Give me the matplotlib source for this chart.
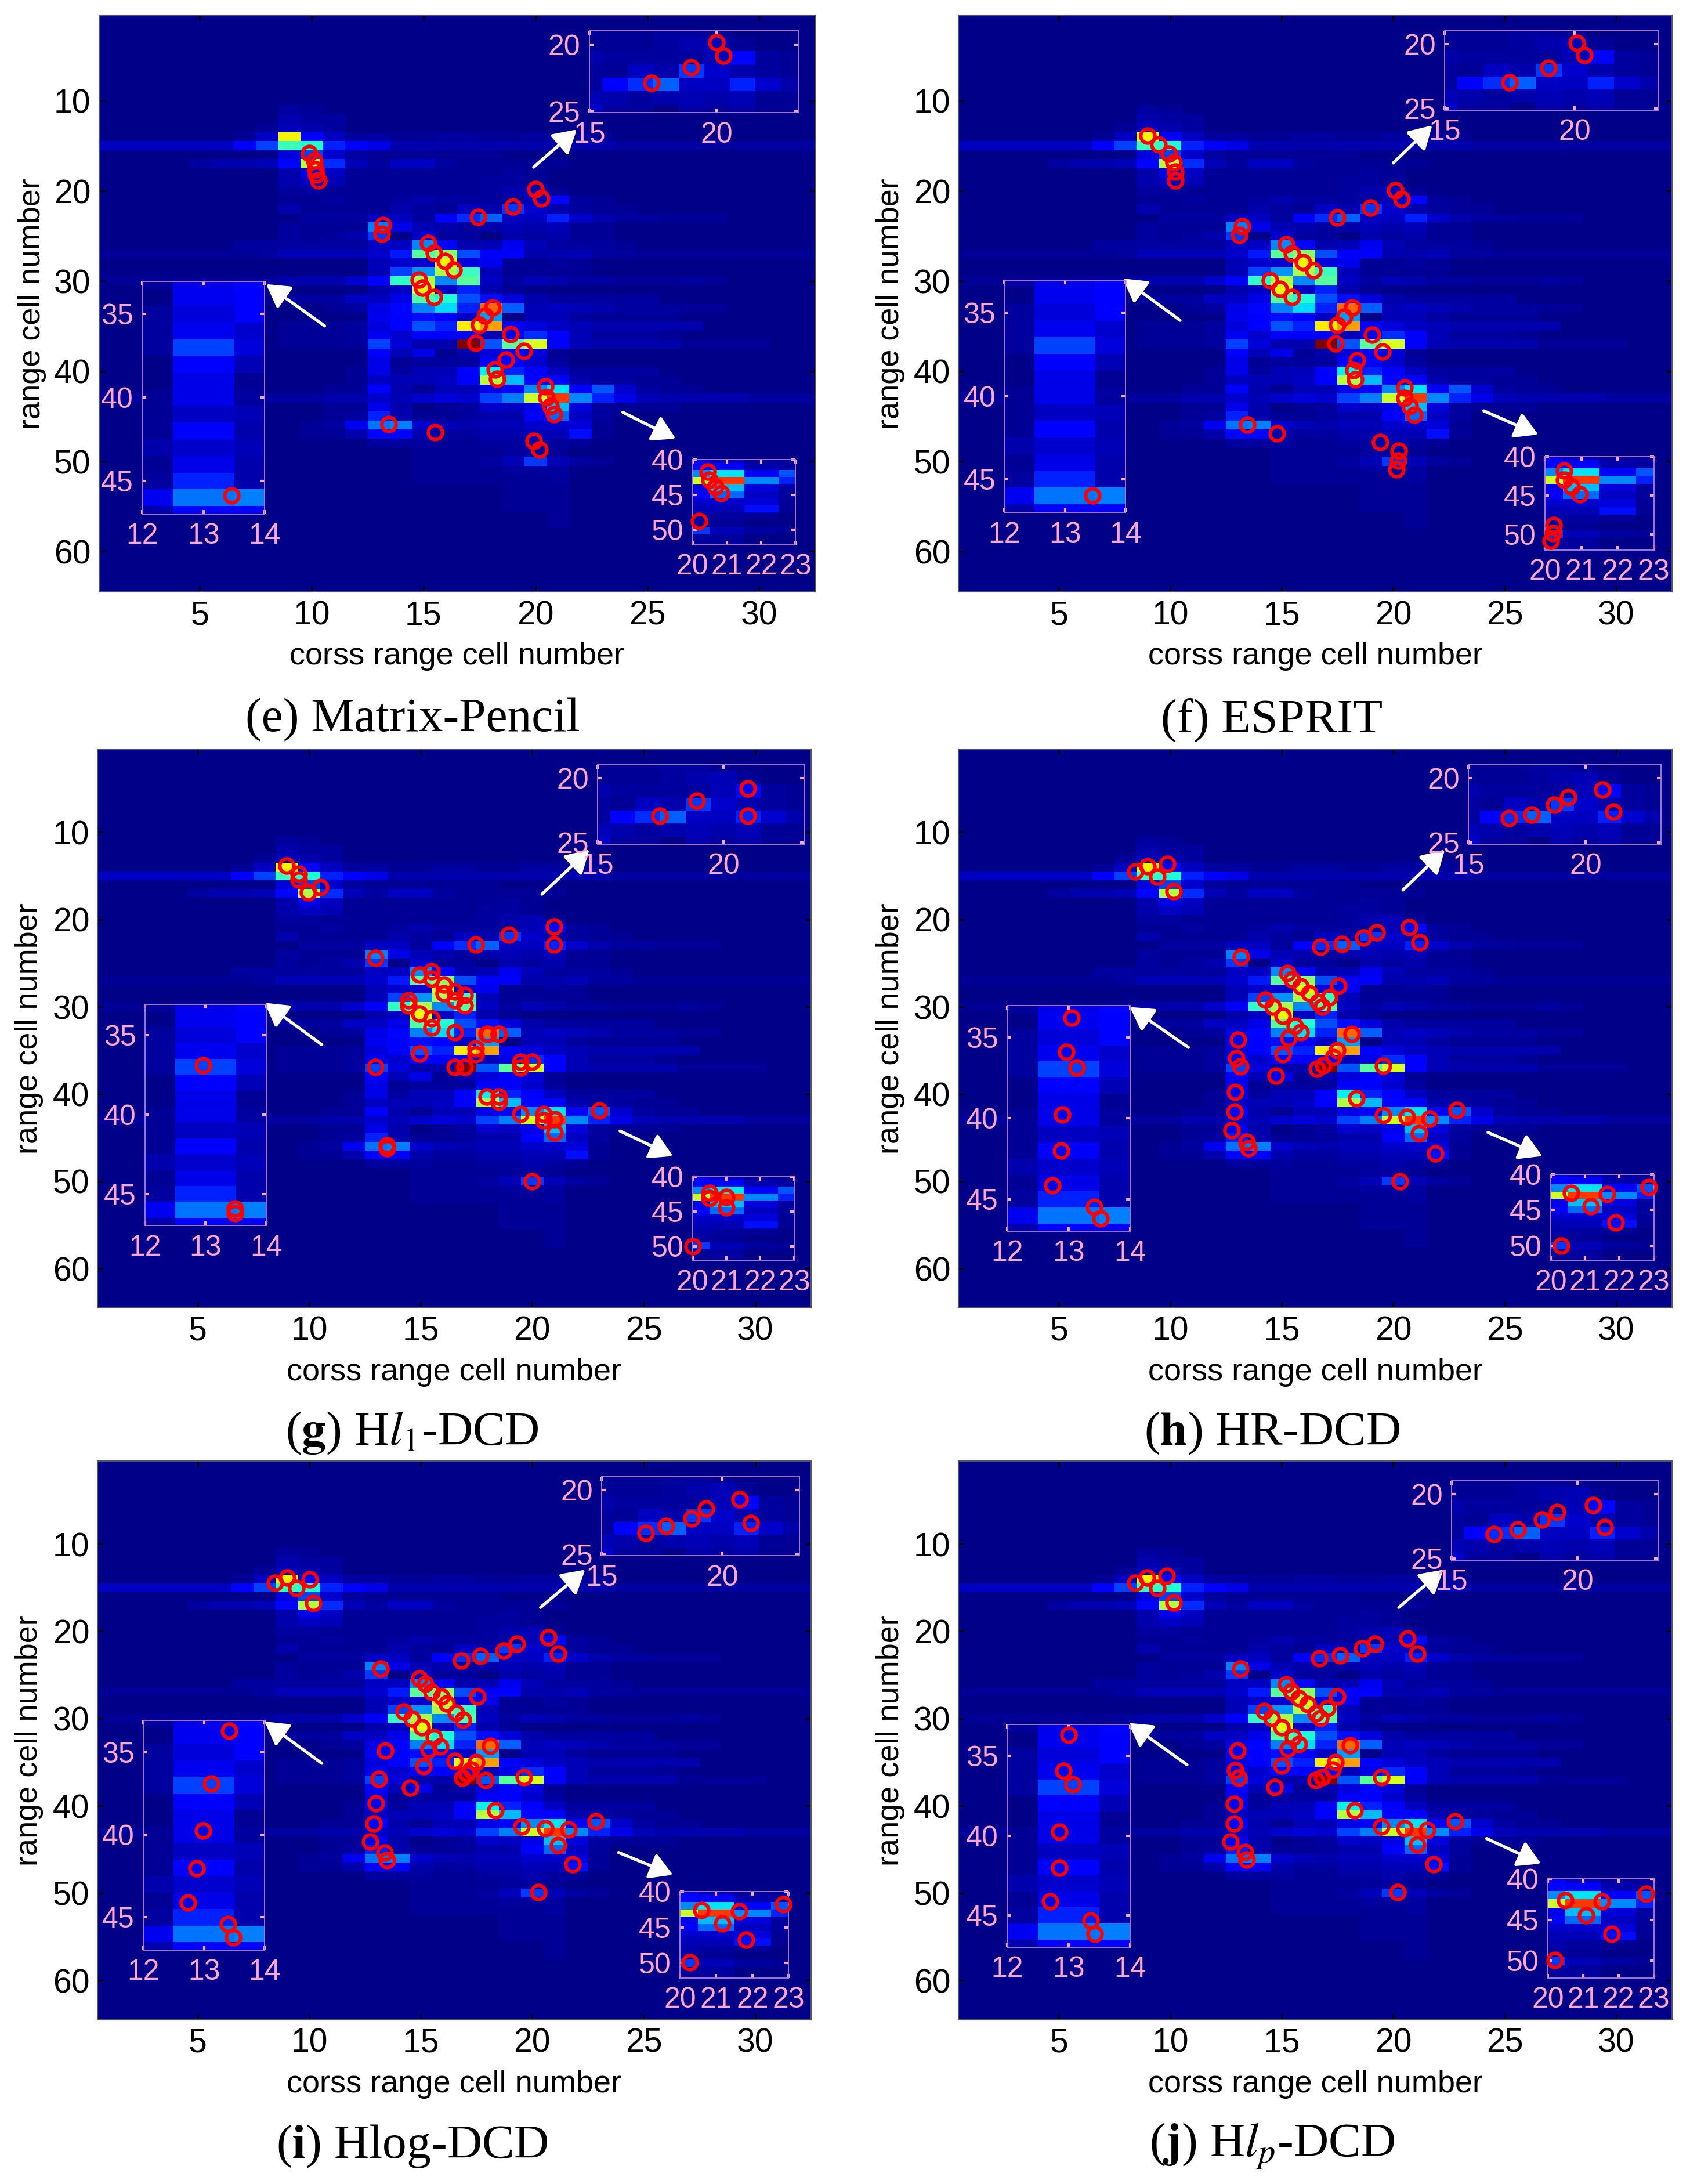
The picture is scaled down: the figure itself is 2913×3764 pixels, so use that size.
import numpy as np
import matplotlib
matplotlib.use("Agg")
import matplotlib.pyplot as plt

plt.rcParams['font.family'] = ['Liberation Sans', 'DejaVu Sans']
plt.rcParams['mathtext.fontset'] = 'stix'

# heat map cells in percent of the jet range: (row, first column, values)
# everything not listed stays at the background level
background = 1
heat_cells = [
    (11, 9, [3, 2]),
    (12, 9, [4, 3, 3]),
    (13, 8, [2, 5, 4, 3]),
    (14, 7, [2, 6, 65, 12, 6, 3, 3, 2, 2, 3, 3, 2, 2, 3, 3, 3, 2]),
    (15, 1, [6, 6, 6, 6, 6, 6, 11, 19, 42, 39, 16, 11, 9, 4, 4, 4, 4, 4, 4, 4, 4, 4, 4, 3, 3, 3, 3, 3, 3, 3, 3, 3]),
    (16, 9, [8, 19, 7, 3, 2, 2, 2, 2, 2, 2, 1, 1]),
    (17, 5, [3, 4, 4, 5, 13, 57, 17, 5, 3, 6, 6, 3, 2, 2, 2, 2, 2]),
    (18, 9, [4, 9, 6, 2, 2, 2, 2, 2, 2, 2, 3, 2]),
    (19, 9, [4, 6, 5, 2, 2, 2, 2, 2, 2, 3, 3, 2]),
    (20, 9, [3, 3, 2, 2, 2, 2, 2, 2, 2, 3, 4, 5, 2]),
    (21, 9, [2, 2, 3, 2, 2, 3, 4, 3, 3, 3, 3, 5, 13, 3, 2]),
    (22, 9, [4, 2, 2, 2, 2, 4, 3, 2, 6, 4, 18, 7, 4, 3, 2, 2]),
    (23, 9, [1, 3, 3, 3, 6, 6, 3, 11, 17, 22, 6, 6, 16, 7, 4, 3, 3, 2, 2, 2, 1]),
    (24, 9, [3, 2, 2, 2, 25, 9, 5, 4, 3, 4, 5, 4, 5, 2, 2]),
    (25, 9, [3, 2, 3, 4, 18, 1, 7, 3, 3, 1, 4, 3, 4, 2, 2]),
    (26, 7, [3, 3, 3, 3, 3, 3, 6, 6, 26, 13, 4, 5, 10, 5, 3, 3, 3, 2]),
    (27, 1, [2, 2, 2, 2, 2, 2, 2, 3, 5, 5, 5, 5, 7, 15, 46, 52, 20, 11, 11, 4, 4, 5, 3, 3, 2, 2, 2, 2, 2, 2, 2, 2]),
    (28, 13, [5, 7, 7, 65, 8, 10, 2, 2, 3, 2]),
    (29, 13, [5, 19, 27, 56, 42, 5, 2, 2, 2, 2]),
    (30, 1, [2, 2, 2, 2, 2, 2, 2, 3, 4, 4, 4, 7, 12, 41, 56, 26, 46, 6, 3, 5, 4, 3, 3, 2, 2, 2, 3, 2]),
    (31, 13, [4, 6, 63, 6, 16, 4, 2, 1, 1]),
    (32, 9, [3, 3, 3, 6, 6, 9, 45, 39, 20, 14, 8, 4, 3, 3, 3, 3, 3]),
    (33, 11, [2, 3, 9, 13, 25, 34, 16, 80, 22, 5, 6, 5, 4, 3, 3, 3, 2, 2]),
    (34, 13, [10, 12, 14, 12, 6, 28, 1, 5, 5, 3, 2, 2, 2, 2]),
    (35, 9, [2, 2, 2, 3, 8, 12, 21, 16, 66, 74, 12, 8, 6, 5, 4, 4, 4, 4, 4]),
    (36, 9, [2, 2, 2, 3, 10, 7, 11, 11, 11, 5, 9, 17, 11, 5, 3, 3, 3, 2]),
    (37, 9, [2, 2, 2, 3, 19, 8, 4, 4, 100, 21, 46, 61, 11, 5, 4, 4, 4, 4, 2, 2, 2, 2]),
    (38, 13, [11, 5, 9, 2, 4, 8, 11, 8, 2]),
    (39, 13, [9, 2, 3, 3, 3, 12, 11, 7, 3]),
    (40, 12, [2, 9, 3, 5, 5, 11, 36, 16, 12, 6, 3, 3, 3, 3]),
    (41, 12, [2, 6, 5, 5, 6, 12, 57, 31, 13, 12, 4, 3, 3, 2, 2]),
    (42, 11, [2, 2, 12, 4, 2, 5, 5, 9, 12, 26, 35, 12, 21, 7, 3, 2, 2]),
    (43, 1, [3, 3, 3, 3, 3, 3, 3, 3, 3, 3, 4, 4, 7, 5, 7, 8, 7, 19, 25, 60, 85, 26, 16, 9, 5, 4, 4, 4, 4, 3, 3, 3]),
    (44, 11, [2, 2, 9, 4, 1, 2, 3, 7, 6, 9, 31, 8, 3, 2, 2, 2]),
    (45, 11, [2, 3, 16, 4, 2, 2, 3, 4, 4, 12, 23, 6, 3]),
    (46, 10, [2, 3, 10, 24, 25, 7, 5, 4, 5, 5, 7, 7, 8, 2]),
    (47, 10, [2, 2, 4, 13, 12, 4, 3, 3, 4, 4, 5, 5, 14, 2]),
    (48, 13, [3, 3, 3, 2, 2, 3, 3, 4, 3, 2]),
    (49, 15, [2, 2, 2, 2, 3, 3, 2]),
    (50, 15, [2, 2, 2, 3, 5, 18, 5, 3, 2]),
    (51, 15, [2, 2, 2, 2, 3, 3, 3]),
    (52, 15, [2, 2, 2, 2, 2, 2, 3]),
    (53, 19, [2, 2, 2]),
    (54, 19, [2, 2, 2]),
    (55, 19, [2, 2, 2]),
    (56, 21, [2]),
    (57, 21, [2]),
]

# red circle positions, cross range then range
e_x = [9.9, 10.14, 10.19, 10.2, 10.3, 13.2, 13.15, 15.2, 15.46, 15.96, 16.35, 14.8, 14.95, 15.46, 18.1, 17.76, 17.5, 17.33,
       18.9, 19.5, 18.68, 18.2, 18.3, 20.45, 20.5, 20.67, 20.84, 13.46, 15.53, 19.93, 20.2, 17.43, 18.99, 20.0, 20.26]
e_y = [15.83, 16.67, 17.6, 18.2, 18.8, 23.8, 24.76, 25.8, 26.86, 27.75, 28.75, 29.85, 30.75, 31.74, 32.9, 33.84, 34.84, 36.84,
       35.9, 37.73, 38.73, 39.8, 40.83, 41.7, 42.9, 43.9, 44.8, 45.87, 46.8, 47.76, 48.7, 22.87, 21.7, 19.82, 20.82]

f_x = [8.98, 9.47, 9.94, 10.14, 10.22, 10.22, 13.23, 13.08, 15.2, 15.45, 15.96, 16.43, 14.47, 14.9, 15.45, 18.17, 17.8, 17.49, 17.42,
       19.04, 19.51, 18.38, 18.23, 18.3, 20.52, 20.52, 20.73, 20.96, 13.45, 14.77, 19.41, 20.24, 20.22, 20.15, 17.5, 18.98, 20.09, 20.38]
f_y = [13.88, 14.83, 15.89, 16.81, 17.84, 18.82, 23.9, 24.85, 25.91, 26.95, 27.89, 28.81, 29.9, 30.85, 31.79, 32.92, 33.95, 34.87, 36.9,
       35.93, 37.85, 38.77, 39.86, 40.9, 41.81, 42.97, 43.85, 44.83, 45.95, 46.93, 47.85, 48.82, 49.91, 50.89, 22.96, 21.83, 19.91, 20.86]

g_x = [8.99, 9.52, 9.52, 9.95, 10.48, 12.96, 12.96, 14.95, 15.48, 15.48, 16.03, 16.03, 16.53, 16.53, 16.98, 16.98, 14.45, 14.45,
       14.95, 15.48, 15.48, 16.53, 14.95, 17.97, 18.0, 18.5, 18.5, 17.47, 17.47, 16.53, 16.98, 19.47, 19.47, 19.98, 17.97, 18.52, 18.52,
       19.47, 20.51, 20.51, 21.0, 21.0, 23.02, 13.49, 13.49, 20.0, 17.47, 18.94, 20.98, 20.98]
g_y = [13.82, 14.74, 15.41, 16.88, 16.3, 24.4, 36.88, 26.3, 25.9, 26.82, 27.43, 28.43, 28.25, 29.26, 28.67, 29.87, 29.27, 29.87,
       30.79, 31.35, 32.39, 32.94, 35.39, 33.09, 33.09, 33.09, 33.09, 34.77, 35.47, 36.88, 36.88, 36.3, 37.0, 36.3, 40.28, 40.28, 40.89,
       42.32, 42.32, 43.03, 42.9, 44.4, 41.9, 45.9, 46.2, 50.0, 22.9, 21.76, 20.8, 22.9]

h_x = [8.43, 8.99, 9.43, 9.87, 10.16, 13.18, 13.05, 12.96, 13.13, 12.9, 12.88, 12.74, 13.42, 13.52, 14.73, 15.05, 15.29, 15.85, 15.58,
       15.05, 14.61, 14.27, 15.24, 15.46, 15.85, 16.24, 16.63, 16.82, 17.12, 17.55, 16.73, 17.7, 18.65, 19.26, 20.72, 21.18, 18.14,
       17.48, 17.31, 16.87, 16.58, 19.55, 18.36, 19.55, 20.6, 21.64, 22.86, 21.16, 21.9, 20.3]
h_y = [14.5, 13.9, 15.1, 13.66, 16.74, 24.28, 33.78, 35.9, 36.86, 39.78, 42.0, 44.13, 45.46, 46.2, 37.87, 35.42, 33.57, 32.93, 32.19,
       31.07, 29.96, 29.2, 26.14, 26.88, 27.67, 28.47, 29.48, 29.96, 28.9, 27.57, 23.11, 22.8, 22.05, 21.47, 20.88, 22.58, 33.14,
       34.95, 35.8, 36.7, 37.12, 36.8, 40.47, 42.43, 42.64, 42.8, 41.8, 44.5, 46.78, 50.02]

i_x = [8.47, 9.0, 9.43, 10.01, 10.18, 13.19, 13.41, 13.12, 12.98, 12.88, 12.73, 13.39, 13.48, 14.52, 15.12, 15.36, 15.89, 15.58, 15.05,
       14.61, 14.23, 14.95, 15.19, 15.48, 15.92, 16.16, 16.59, 16.9, 17.55, 16.81, 17.67, 18.71, 19.31, 20.71, 21.17, 18.11, 16.52,
       17.48, 17.27, 17.07, 16.88, 17.92, 19.63, 18.35, 19.53, 20.59, 21.63, 22.86, 21.17, 21.82, 20.28]
i_y = [14.47, 13.87, 15.07, 14.03, 16.8, 24.27, 33.69, 36.9, 39.74, 42.03, 44.1, 45.4, 46.22, 37.89, 35.44, 33.53, 33.2, 32.11, 31.02,
       30.04, 29.23, 25.41, 26.01, 26.94, 27.48, 28.25, 29.34, 30.15, 27.48, 23.34, 22.8, 22.2, 21.44, 20.73, 22.58, 33.15, 34.89,
       35.0, 35.87, 36.36, 36.8, 37.07, 36.74, 40.5, 42.41, 42.57, 42.73, 41.8, 44.48, 46.71, 49.92]

j_x = [8.43, 8.96, 9.41, 9.85, 10.14, 13.15, 13.0, 12.92, 13.07, 12.85, 12.85, 12.7, 13.36, 13.43, 14.69, 14.99, 15.27, 15.78, 15.5,
       14.99, 14.54, 14.22, 15.2, 15.43, 15.78, 16.15, 16.53, 16.74, 17.04, 17.49, 16.67, 17.62, 18.6, 19.18, 20.63, 21.08, 18.07,
       17.4, 17.29, 16.82, 16.53, 19.47, 18.28, 19.47, 20.5, 21.53, 22.77, 21.08, 21.81, 20.19]
j_y = [14.46, 13.88, 15.05, 13.67, 16.7, 24.28, 33.7, 35.96, 36.79, 39.76, 42.02, 44.1, 45.32, 46.15, 37.83, 35.41, 33.49, 32.94, 32.17,
       31.0, 29.94, 29.14, 26.12, 26.91, 27.68, 28.38, 29.42, 29.94, 28.84, 27.46, 23.09, 22.75, 21.96, 21.41, 20.86, 22.57, 33.09,
       34.98, 35.84, 36.73, 37.06, 36.73, 40.49, 42.36, 42.57, 42.75, 41.8, 44.43, 46.7, 49.9]

captions = ["(e) Matrix-Pencil", "(f) ESPRIT", r"($\mathbf{g}$) H$\mathit{l}_{1}$-DCD",
            r"($\mathbf{h}$) HR-DCD", r"($\mathbf{i}$) Hlog-DCD", r"($\mathbf{j}$) H$\mathit{l}_{p}$-DCD"]
points = [(e_x, e_y), (f_x, f_y), (g_x, g_y), (h_x, h_y), (i_x, i_y), (j_x, j_y)]

# layout, all in pixels of the 1213x1568 view: left, right, top, bottom
main_boxes = [(71, 585, 11, 425), (688, 1200, 11, 425), (70, 582, 538, 939),
              (688, 1200, 538, 939), (70, 582, 1049, 1450), (688, 1200, 1049, 1450)]
left_boxes = [(102, 190, 202, 369), (721, 808, 201, 368), (104, 191, 721, 880),
              (723, 811, 722, 884), (103, 190, 1235, 1400), (723, 811, 1238, 1398)]
top_boxes = [(423, 573, 22, 81), (1037, 1190, 22, 79), (429, 577, 549, 606),
             (1054, 1192, 549, 606), (432, 574, 1060, 1117), (1042, 1190, 1063, 1120)]
bot_boxes = [(497, 571, 330, 391), (1109, 1187, 328, 395), (497, 570, 845, 905),
             (1113, 1187, 843, 905), (488, 566, 1358, 1420), (1111, 1187, 1349, 1420)]
arrows = [[((383, 120), (414, 93)), ((233, 234), (191, 204)), ((447, 296), (485, 315))],
          [((1000, 117), (1028, 90)), ((847, 230), (806, 200)), ((1065, 295), (1104, 312))],
          [((389, 642), (423, 610)), ((231, 750), (190, 720)), ((445, 812), (483, 830))],
          [((1007, 639), (1037, 610)), ((853, 752), (811, 723)), ((1068, 813), (1107, 830))],
          [((388, 1154), (420, 1127)), ((231, 1266), (190, 1236)), ((444, 1330), (483, 1346))],
          [((1004, 1154), (1036, 1127)), ((852, 1267), (810, 1237)), ((1067, 1320), (1106, 1338))]]
caption_pos = [(296, 517), (913, 517), (296, 1029), (913, 1029), (296, 1541), (913, 1541)]
ylabel_x = [23, 639, 21, 639, 21, 639]

VIEW_W, VIEW_H = 1213.0, 1568.0
PINK = '#ffa6cc'
EDGE = '#b07ed0'

heat = np.full((64, 32), float(background))
for row, first, vals in heat_cells:
    heat[row - 1, first - 1:first - 1 + len(vals)] = vals

fig = plt.figure(figsize=(29.13, 37.64), dpi=100)


def box_axes(box):
    l, r, t, b = box
    return fig.add_axes([l / VIEW_W, 1 - b / VIEW_H, (r - l) / VIEW_W, (b - t) / VIEW_H])


def draw_heat(ax):
    ax.imshow(heat, cmap='jet', vmin=0, vmax=100, interpolation='nearest',
              extent=(0.5, 32.5, 64.5, 0.5), aspect='auto')


def draw_inset(box, xlim, ylim, xticks, yticks, px, py):
    ax = box_axes(box)
    draw_heat(ax)
    ax.set_xlim(*xlim)
    ax.set_ylim(*ylim)
    ax.set_xticks(xticks)
    ax.set_yticks(yticks)
    ax.tick_params(direction='in', length=5, width=3, color=PINK, labelcolor=PINK,
                   labelsize=36, top=True, right=True, pad=11)
    for s in ax.spines.values():
        s.set_color(EDGE)
        s.set_linewidth(1.3)
    x = np.array(px)
    y = np.array(py)
    keep = (x >= xlim[0]) & (x <= xlim[1]) & (y >= ylim[1]) & (y <= ylim[0])
    ax.plot(x[keep], y[keep], 'o', mfc='none', mec='red', ms=17.5, mew=4.4, clip_on=False, zorder=5)


for k in range(6):
    ax = box_axes(main_boxes[k])
    draw_heat(ax)
    ax.set_xlim(0.5, 32.5)
    ax.set_ylim(64.5, 0.5)
    ax.set_xticks([5, 10, 15, 20, 25, 30])
    ax.set_yticks([10, 20, 30, 40, 50, 60])
    ax.tick_params(direction='in', length=7, width=2, top=True, right=True, labelsize=41, pad=10)
    for s in ax.spines.values():
        s.set_color('#555555')
        s.set_linewidth(1.5)
    ax.set_xlabel("corss range cell number", fontsize=39, labelpad=13)
    px, py = points[k]
    ax.plot(px, py, 'o', mfc='none', mec='red', ms=17.5, mew=4.4, zorder=5)

    l, r, t, b = main_boxes[k]
    fig.text(ylabel_x[k] / VIEW_W, 1 - (t + b) / 2 / VIEW_H, "range cell number", rotation=90,
             ha='center', va='center', fontsize=39)
    cx, cy = caption_pos[k]
    fig.text(cx / VIEW_W, 1 - cy / VIEW_H, captions[k], ha='center', va='center', fontsize=60,
             family=['Liberation Serif', 'DejaVu Serif'])

    for (x0, y0), (x1, y1) in arrows[k]:
        ax.annotate('', xy=(x1 / VIEW_W, 1 - y1 / VIEW_H), xytext=(x0 / VIEW_W, 1 - y0 / VIEW_H),
                    xycoords='figure fraction', textcoords='figure fraction', annotation_clip=False,
                    arrowprops=dict(arrowstyle='-|>,head_length=2.4,head_width=1.4', mutation_scale=10,
                                    color='white', lw=3.8, shrinkA=0, shrinkB=0, capstyle='round'),
                    zorder=6)

    draw_inset(left_boxes[k], (12, 14), (46.98, 33.04), [12, 13, 14], [35, 40, 45], px, py)
    draw_inset(top_boxes[k], (15, 23.2), (25.1, 18.95), [15, 20], [20, 25], px, py)
    draw_inset(bot_boxes[k], (20, 23), (52.07, 40.05), [20, 21, 22, 23], [40, 45, 50], px, py)

fig.savefig("out.png", dpi=100, facecolor='white')
